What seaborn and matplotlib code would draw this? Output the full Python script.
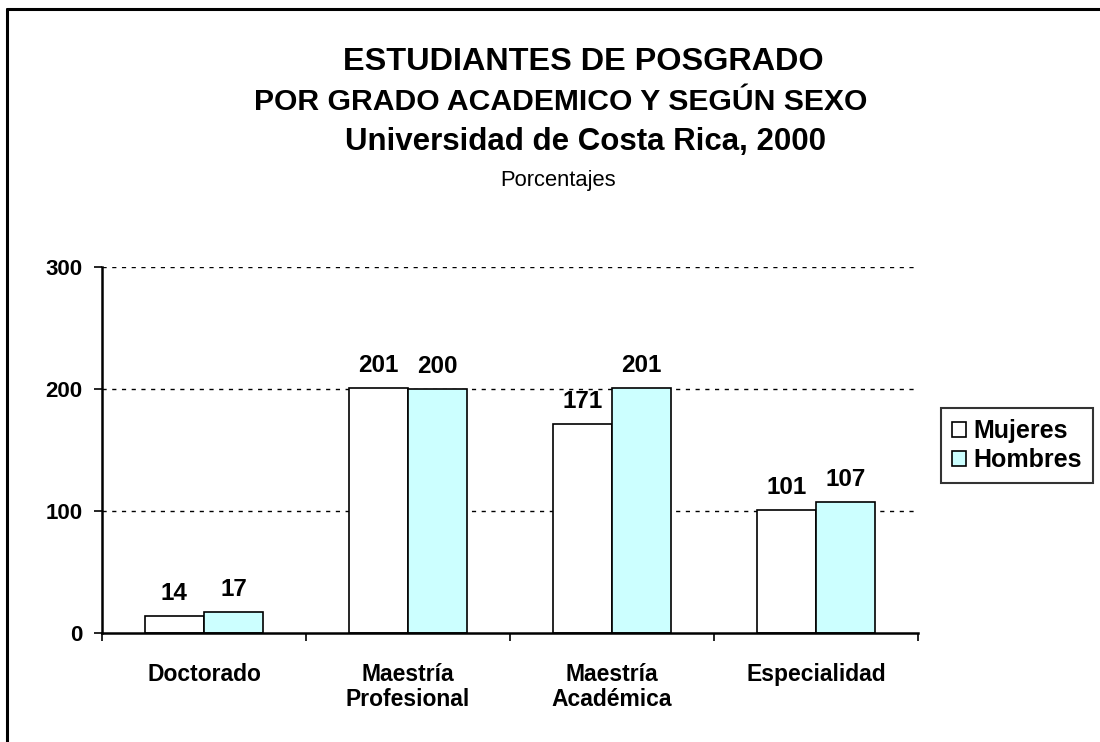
import matplotlib.pyplot as plt
import seaborn as sns
import pandas as pd
from matplotlib.lines import Line2D

grados = ["Doctorado", "Maestría\nProfesional", "Maestría\nAcadémica", "Especialidad"]
mujeres = [14, 201, 171, 101]
hombres = [17, 200, 201, 107]

df = pd.DataFrame({
    'Grado': grados * 2,
    'Sexo': ['Mujeres'] * 4 + ['Hombres'] * 4,
    'Valor': mujeres + hombres,
})

sns.set_style('white')
plt.rcParams['font.family'] = ['Liberation Sans', 'DejaVu Sans']
plt.rcParams['text.color'] = 'black'
plt.rcParams['xtick.color'] = 'black'
plt.rcParams['ytick.color'] = 'black'
plt.rcParams['axes.edgecolor'] = 'black'

fig = plt.figure(figsize=(11, 7.42), dpi=100)
ax = fig.add_axes([0.0927, 0.147, 0.742, 0.493])

sns.barplot(x='Grado', y='Valor', hue='Sexo', data=df, ax=ax,
            palette={'Mujeres': '#FFFFFF', 'Hombres': '#CCFFFF'},
            edgecolor='black', linewidth=1.2, width=0.58, saturation=1)

for c in ax.containers:
    ax.bar_label(c, padding=8, fontsize=17.5, fontweight='bold')

ax.set_ylim(0, 300)
ax.set_xlim(-0.5, 3.5)
ax.set_yticks([0, 100, 200, 300])
for y in [100, 200, 300]:
    ax.axhline(y, color='black', linestyle=(0, (3, 4)), linewidth=1, zorder=0)
ax.set_xlabel('')
ax.set_ylabel('')
ax.tick_params(axis='y', labelsize=16, length=6, width=1.2, left=True, direction='out', pad=8)
ax.tick_params(axis='x', labelsize=16.5, bottom=False, pad=18)
for lab in ax.get_xticklabels() + ax.get_yticklabels():
    lab.set_fontweight('bold')
for lab in ax.get_xticklabels():
    lab.set_linespacing(1.1)
# category boundary ticks
ax.set_xticks([-0.5, 0.5, 1.5, 2.5, 3.5], minor=True)
ax.tick_params(axis='x', which='minor', bottom=True, length=6, width=1.2, direction='out')
ax.spines['top'].set_visible(False)
ax.spines['right'].set_visible(False)
ax.spines['left'].set_linewidth(1.8)
ax.spines['bottom'].set_linewidth(1.8)

leg = ax.legend(loc='center left', bbox_to_anchor=(1.028, 0.512), frameon=True,
                prop={'weight': 'bold', 'size': 18}, handlelength=0.55,
                handleheight=0.55, handletextpad=0.3, borderpad=0.45,
                labelspacing=0.2, fancybox=False, borderaxespad=0)
leg.get_frame().set_edgecolor('black')
leg.get_frame().set_linewidth(1.5)

fig.text(0.530, 0.916, "ESTUDIANTES DE POSGRADO", ha='center', va='center',
         fontsize=23.3, fontweight='bold')
fig.text(0.510, 0.862, "POR GRADO ACADEMICO Y SEGÚN SEXO", ha='center', va='center',
         fontsize=21.7, fontweight='bold')
fig.text(0.532, 0.808, "Universidad de Costa Rica, 2000", ha='center', va='center',
         fontsize=22.5, fontweight='bold')
fig.text(0.507, 0.757, "Porcentajes", ha='center', va='center', fontsize=15.8)

# chart frame
fig.add_artist(Line2D([0.0064, 1.0], [1 - 9 / 742, 1 - 9 / 742], color='black', linewidth=2.2))
fig.add_artist(Line2D([0.0064, 0.0064], [0.0, 1 - 9 / 742], color='black', linewidth=2.2))

fig.savefig('out.png', dpi=100)
